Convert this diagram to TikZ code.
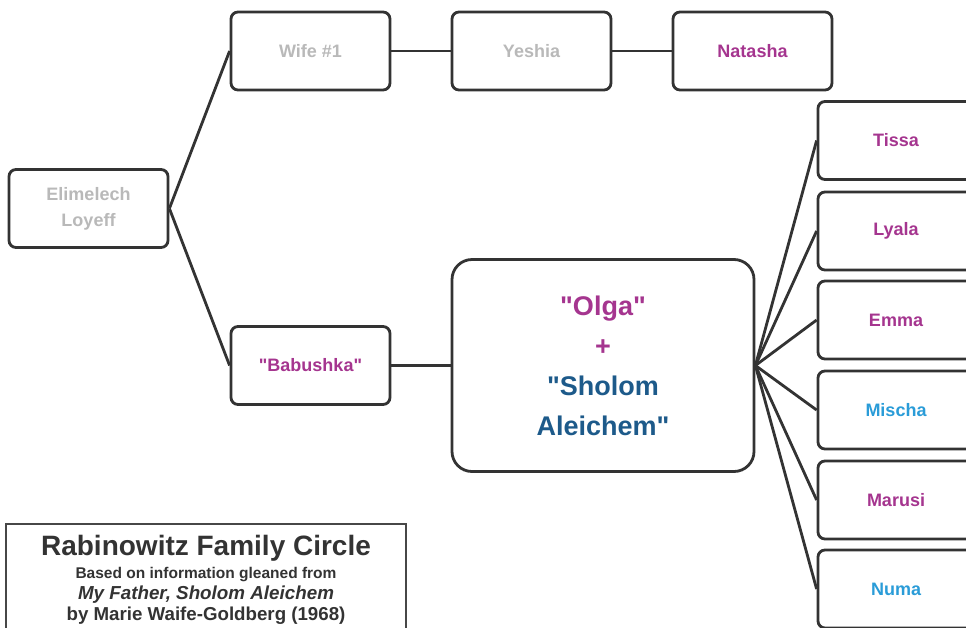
\documentclass[tikz,border=0pt]{standalone}
\usepackage{fontspec}
\setmainfont{Liberation Sans}
\definecolor{linec}{HTML}{333333}
\definecolor{greyt}{HTML}{B9B9B9}
\definecolor{magt}{HTML}{A5358F}
\definecolor{darkblue}{HTML}{1D5A8A}
\definecolor{lightblue}{HTML}{2A9CD8}
\definecolor{titlec}{HTML}{333333}
\newcommand{\dq}{\textquotedbl}
\begin{document}
\begin{tikzpicture}[x=1pt,y=-1pt,
  box/.style={draw=linec, line width=2.8pt, rounded corners=7pt, fill=white,
    minimum width=159pt, minimum height=78pt, inner sep=0pt, align=center,
    font=\fontsize{18}{26}\selectfont\bfseries},
  kid/.style={box, minimum width=156pt},
  bigbox/.style={draw=linec, line width=2.8pt, rounded corners=20pt, fill=white,
    minimum width=302pt, minimum height=212pt, inner sep=0pt, align=center,
    font=\fontsize{27}{40}\selectfont\bfseries},
  link/.style={draw=linec, line width=2.8pt},
  frame/.style={draw=linec!90, line width=1.3pt, minimum width=400pt, minimum height=120pt, inner sep=0pt},
  ttl/.style={anchor=base, text=titlec, inner sep=0pt}]
\clip (0,0) rectangle (966,627);
\fill[white] (0,0) rectangle (966,627);
\node[box, text=greyt] (eli) at (88.5,208.5) {Elimelech\\Loyeff};
\node[box, text=greyt] (wife) at (310.5,51) {Wife \#1};
\node[box, text=greyt] (yeshia) at (531.5,51) {Yeshia};
\node[box, text=magt] (natasha) at (752.5,51) {Natasha};
\node[box, text=magt] (babushka) at (310.5,365.5) {\dq Babushka\dq};
\node[bigbox] (olga) at (603,365.5) {\textcolor{magt}{\dq Olga\dq}\\\textcolor{magt}{+}\\\textcolor{darkblue}{\dq Sholom}\\\textcolor{darkblue}{Aleichem\dq}};
\node[kid, text=magt] (tissa) at (896,140.5) {Tissa};
\node[kid, text=magt] (lyala) at (896,231) {Lyala};
\node[kid, text=magt] (emma) at (896,320) {Emma};
\node[kid, text=lightblue] (mischa) at (896,410) {Mischa};
\node[kid, text=magt] (marusi) at (896,500) {Marusi};
\node[kid, text=lightblue] (numa) at (896,589) {Numa};
\draw[link] (eli.east) -- (wife.west);
\draw[link] (eli.east) -- (babushka.west);
\draw[link] (wife) -- (yeshia);
\draw[link] (yeshia) -- (natasha);
\draw[link] (babushka.east) -- (babushka.east -| olga.west);
\foreach \k in {tissa,lyala,emma,mischa,marusi,numa}
  \draw[link] (olga.east) -- (\k.west);
% legend
\node[frame] (legend) at (206,584) {};
\node[ttl, font=\fontsize{28}{30}\selectfont\bfseries] (t1) at (206,555) {Rabinowitz Family Circle};
\node[ttl, font=\fontsize{15.5}{18}\selectfont\bfseries] (t2) at (206,578) {Based on information gleaned from};
\node[ttl, font=\fontsize{18.8}{20}\selectfont\bfseries\itshape] (t3) at (206,599) {My Father, Sholom Aleichem};
\node[ttl, font=\fontsize{18.7}{20}\selectfont\bfseries] (t4) at (206,620) {by Marie Waife-Goldberg (1968)};
\end{tikzpicture}
\end{document}
